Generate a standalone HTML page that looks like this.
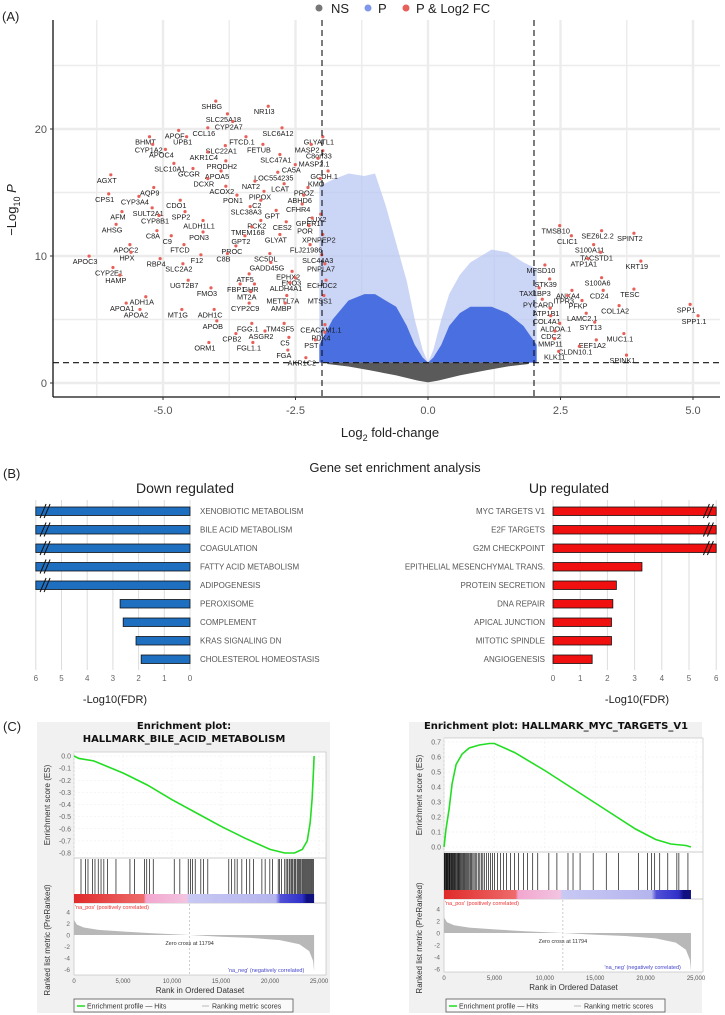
<!DOCTYPE html>
<html><head><meta charset="utf-8">
<style>
html,body{margin:0;padding:0;background:#fff;}
svg{display:block;font-family:"Liberation Sans",sans-serif;}
</style></head>
<body>
<svg id="fig" width="725" height="1015" viewBox="0 0 725 1015" xmlns="http://www.w3.org/2000/svg"></svg>
<script>
// ---------- Panel A data ----------
const geneNames=["SHBG","NR1I3","SLC25A18","CYP2A7","APOF","CCL16","SLC6A12","BHMT","UPB1","FTCD.1","GLYATL1","CYP1A2","SLC22A1","FETUB","MASP2","APOC4","AKR1C4","SLC47A1","C8orf33","MASP2.1","PRODH2","SLC10A1","CA5A","GCGR","APOA5","LOC554235","GCDH.1","AGXT","KMO","DCXR","NAT2","ACOX2","LCAT","PROZ","AQP9","PIPOX","CPS1","CYP3A4","PON1","ABHD6","CDO1","C2","SULT2A1","SLC38A3","GPT","CFHR4","CUX2","AFM","SPP2","CYP8B1","ALDH1L1","PCK2","CES2","GPER1","POR","AHSG","TMEM168","C8A","PON3","C9","GLYAT","XPNPEP2","GPT2","APOC2","FTCD","PROC","FLJ21986","HPX","APOC3","SC5DL","C8B","SLC44A3","F12","RBP4","SLC2A2","GADD45G","PNPLA7","CYP2E1","HAMP","ATF5","EPHX2","ENO3","ECHDC2","UGT2B7","FBP1","GHR","ALDH4A1","FMO3","MT2A","ADH1A","METTL7A","MTSS1","APOA1","CYP2C9","AMBP","MT1G","ADH1C","APOA2","APOB","FGG.1","TM4SF5","CEACAM1.1","ASGR2","PDK4","CPB2","C5","PST","ORM1","FGL1.1","FGA","AKR1C2",
"TMSB10","SEZ6L2.2","SPINT2","CLIC1","S100A11","TACSTD1","ATP1A1","KRT19","MFSD10","STK39","S100A6","TAX1BP3","ANXA4","CD24","TESC","ITPR3","PYCARD","PFKP","SPP1","COL1A2","ATP1B1","LAMC2.1","SPP1.1","COL4A1","SYT13","ALDOA.1","CDC2","MUC1.1","MMP11","EEF1A2","CLDN10.1","KLK11","SPINK1"];
const geneFC=[-4.08,-3.09,-3.86,-3.76,-4.78,-4.23,-2.83,-5.33,-4.63,-3.51,-2.06,-5.27,-3.9,-3.19,-2.28,-5.03,-4.23,-2.87,-2.06,-2.15,-3.89,-4.87,-2.58,-4.51,-3.98,-2.91,-1.96,-6.06,-2.11,-4.23,-3.34,-3.89,-2.79,-2.34,-5.25,-3.17,-6.1,-5.53,-3.68,-2.42,-4.75,-3.23,-5.28,-3.43,-2.94,-2.45,-2.1,-5.85,-4.66,-5.15,-4.32,-3.23,-2.75,-2.26,-2.32,-5.96,-3.4,-5.19,-4.32,-4.92,-2.87,-2.06,-3.53,-5.7,-4.68,-3.7,-2.3,-5.68,-6.47,-3.06,-3.86,-2.08,-4.36,-5.13,-4.7,-3.04,-2.02,-6.02,-5.89,-3.45,-2.64,-2.58,-2.0,-4.6,-3.62,-3.35,-2.68,-4.17,-3.42,-5.4,-2.74,-2.04,-5.77,-3.45,-2.77,-4.72,-4.11,-5.51,-4.06,-3.4,-2.79,-2.02,-3.15,-2.02,-3.7,-2.7,-2.2,-4.21,-3.38,-2.72,-2.38,
2.41,3.2,3.81,2.63,3.05,3.18,2.94,3.94,2.13,2.22,3.2,2.02,2.64,3.23,3.81,2.56,2.08,2.83,4.87,3.53,2.23,2.91,5.02,2.24,3.07,2.41,2.32,3.62,2.31,3.1,2.78,2.39,3.67];
const geneP=[21.8,21.4,20.8,20.2,19.5,19.7,19.7,19.0,19.0,19.0,19.0,18.4,18.3,18.4,18.4,18.0,17.8,17.6,17.9,17.3,17.1,16.9,16.8,16.5,16.3,16.2,16.3,16.0,15.7,15.7,15.5,15.1,15.3,15.0,15.0,14.7,14.5,14.3,14.4,14.4,14.0,14.0,13.4,13.5,13.2,13.7,12.9,13.1,13.1,12.8,12.4,12.4,12.3,12.6,12.0,12.1,11.9,11.6,11.5,11.2,11.3,11.3,11.2,10.5,10.5,10.4,10.5,9.9,9.6,9.8,9.8,9.7,9.7,9.4,9.0,9.1,9.0,8.7,8.1,8.2,8.4,7.9,7.7,7.7,7.4,7.4,7.5,7.1,6.8,6.4,6.5,6.5,5.9,5.9,5.9,5.4,5.4,5.4,4.5,4.3,4.3,4.2,3.7,3.6,3.5,3.2,3.0,2.8,2.8,2.2,1.6,
12.0,11.6,11.4,11.2,10.5,9.9,9.4,9.2,8.9,7.8,7.9,7.1,6.9,6.9,7.0,6.5,6.2,6.1,5.8,5.7,5.5,5.1,4.9,4.9,4.4,4.3,3.7,3.5,3.1,3.0,2.5,2.1,1.8];
const envFC=[-2.05,-1.8,-1.5,-1.2,-1.0,-0.8,-0.6,-0.4,-0.25,-0.1,0,0.1,0.25,0.4,0.6,0.8,1.0,1.2,1.5,1.8,2.05];
const sparseTop=[15.5,16,16.5,16.3,16.5,14,11,8,5,2.6,1.6,2.6,5,7,8.5,9.5,10,10.5,10.3,9.5,9];
const denseTop=[3,5,6.5,7,7,6.5,6,4.5,3,2,1.6,2,3,4.5,5.5,6,6,6,5.5,4.5,3];
const nsFC=[-1.9,-1.5,-1.1,-0.6,-0.2,0,0.2,0.6,1.1,1.5,1.9];
const nsBottom=[1.5,1.3,1.0,0.6,0.2,0.05,0.2,0.6,1.0,1.3,1.5];
const volXTicks=[-5,-2.5,0,2.5,5];
const volXTickLabels=["-5.0","-2.5","0.0","2.5","5.0"];
const volYTicks=[0,10,20];
const pThresh=1.6, fcThresh=2;

// ---------- Panel B data ----------
const downTerms=["XENOBIOTIC METABOLISM","BILE ACID METABOLISM","COAGULATION","FATTY ACID METABOLISM","ADIPOGENESIS","PEROXISOME","COMPLEMENT","KRAS SIGNALING DN","CHOLESTEROL HOMEOSTASIS"];
const downValues=[7,7,7,7,7,2.72,2.6,2.1,1.9];
const upTerms=["MYC TARGETS V1","E2F TARGETS","G2M CHECKPOINT","EPITHELIAL MESENCHYMAL TRANS.","PROTEIN SECRETION","DNA REPAIR","APICAL JUNCTION","MITOTIC SPINDLE","ANGIOGENESIS"];
const upValues=[7,7,7,3.27,2.33,2.2,2.15,2.15,1.44];
const fdrTicks=[0,1,2,3,4,5,6];

// ---------- Panel C data ----------
const bileRanks=[0,500,2000,5000,7500,10000,12500,15000,17500,20000,21500,22500,23300,23800,24100,24300,24450,24500];
const bileES=[0,-0.02,-0.04,-0.14,-0.24,-0.36,-0.47,-0.58,-0.68,-0.77,-0.80,-0.80,-0.77,-0.70,-0.55,-0.35,-0.1,0.0];
const bileESTicks=[0,-0.1,-0.2,-0.3,-0.4,-0.5,-0.6,-0.7,-0.8];
const bileHits=[714,1189,1427,1903,2141,2474,2759,3045,3425,4282,5709,6184,7183,7421,7707,8087,10228,10799,11655,11893,12083,12369,12940,13225,13653,15794,16080,16413,16650,17126,17602,17935,18315,19172,19505,19981,20266,20837,20980,21170,21503,21646,21800,21950,22050,22200,22300,22450,22550,22650,22800,22900,23000,23100,23250,23350,23450,23550,23650,23750,23850,23950,24050,24150,24250,24350,24450];
const mycRanks=[0,200,500,800,1200,1800,2500,3500,4500,5000,7000,10000,13000,16000,19000,21000,22500,24000,24500];
const mycES=[0,0.12,0.25,0.42,0.55,0.62,0.66,0.68,0.69,0.69,0.63,0.51,0.38,0.25,0.12,0.05,0.02,0.01,0.0];
const mycESTicks=[0,0.1,0.2,0.3,0.4,0.5,0.6,0.7];
const mycHits=[30,90,150,210,270,330,390,450,520,580,650,720,790,860,930,1000,1080,1160,1240,1320,1400,1480,1560,1650,1740,1830,1920,2010,2100,2200,2300,2400,2500,2620,2740,2860,2980,3100,3250,3400,3550,3700,3850,4000,4200,4400,4600,4800,5000,5300,5600,5900,6200,6600,7000,7400,7900,8300,8800,9300,10400,11200,12300,12800,13500,14800,16100,17300,19300,20200,20600,20900,21400,22200,23100,23300,24200];
const metricRanks=[0,300,1000,2500,5000,8000,11794,15000,18000,21000,23000,24000,24400,24500];
const metricVals=[2.6,1.8,1.3,0.9,0.6,0.3,0,-0.3,-0.5,-0.9,-1.6,-2.8,-4.5,-6.3];
const rankTicks=[0,5000,10000,15000,20000,25000];
const rankTickLabels=["0","5,000","10,000","15,000","20,000","25,000"];
const metricTicks=[4,2,0,-2,-4,-6];

const NS="http://www.w3.org/2000/svg";
const svg=document.getElementById('fig');
function el(tag,parent){const e=document.createElementNS(NS,tag);(parent||svg).appendChild(e);return e;}
function txt(parent,x,y,s,size,fill,anchor){const t=el('text',parent);t.setAttribute('x',x);t.setAttribute('y',y);t.setAttribute('font-size',size);t.setAttribute('fill',fill||'#222');if(anchor)t.setAttribute('text-anchor',anchor);t.textContent=s;return t;}
function ln(parent,x1,y1,x2,y2,st,w){const l=el('line',parent);l.setAttribute('x1',x1);l.setAttribute('y1',y1);l.setAttribute('x2',x2);l.setAttribute('y2',y2);l.setAttribute('stroke',st);l.setAttribute('stroke-width',w||1);return l;}

// ================= PANEL A =================
const xV=fc=>428+fc*53, yV=p=>383-p*12.7;
const gA=el('g');
let t=txt(gA,2,21,'(A)',13,'#222');

const gGrid=el('g',gA);
for(let v=-6.25;v<=5.1;v+=1.25){ln(gGrid,xV(v),20,xV(v),397,'#ececec',Math.abs(v%2.5)<0.01?2.4:1.4);}
for(let p=0;p<=25;p+=5){ln(gGrid,53,yV(p),720,yV(p),'#ececec',p%10===0?2.4:1.4);}
let pts=[];envFC.forEach((f,i)=>pts.push(xV(f)+','+yV(sparseTop[i])));
for(let i=envFC.length-1;i>=0;i--)pts.push(xV(envFC[i])+','+yV(pThresh));
let poly=el('polygon',gA);poly.setAttribute('points',pts.join(' '));poly.setAttribute('fill','#b9c7f3');poly.setAttribute('opacity','0.75');

pts=[];envFC.forEach((f,i)=>pts.push(xV(f)+','+yV(denseTop[i])));
for(let i=envFC.length-1;i>=0;i--)pts.push(xV(envFC[i])+','+yV(pThresh));
poly=el('polygon',gA);poly.setAttribute('points',pts.join(' '));poly.setAttribute('fill','#4a6fe0');

pts=[];nsFC.forEach(f=>pts.push(xV(f)+','+yV(pThresh)));
for(let i=nsFC.length-1;i>=0;i--)pts.push(xV(nsFC[i])+','+yV(nsBottom[i]));
poly=el('polygon',gA);poly.setAttribute('points',pts.join(' '));poly.setAttribute('fill','#5a5a5a');

const gGenes=el('g',gA);
geneNames.forEach((n,i)=>{
  const c=el('circle',gGenes);c.setAttribute('cx',xV(geneFC[i])+4);c.setAttribute('cy',yV(geneP[i])-5);c.setAttribute('r',1.6);c.setAttribute('fill','#e8605a');
  
  const tt=txt(gGenes,xV(geneFC[i]),yV(geneP[i])+3,n,7.3,'#1a1a1a','middle');
  
});
let d=ln(gA,xV(-fcThresh),20,xV(-fcThresh),397,'#111',1.1);d.setAttribute('stroke-dasharray','6,4');

d=ln(gA,xV(fcThresh),20,xV(fcThresh),397,'#111',1.1);d.setAttribute('stroke-dasharray','6,4');

d=ln(gA,53,yV(pThresh),720,yV(pThresh),'#111',1.1);d.setAttribute('stroke-dasharray','6,4');

d=ln(gA,53,20,53,397,'#111',1.3);
d=ln(gA,53,397,720,397,'#111',1.3);
volXTicks.forEach((v,i)=>{ln(gA,xV(v),397,xV(v),400,'#333',1);const tk=txt(gA,xV(v),414,volXTickLabels[i],11,'#555','middle');
  });
volYTicks.forEach(v=>{ln(gA,50,yV(v),53,yV(v),'#333',1);const tk=txt(gA,47,yV(v)+4,String(v),11,'#555','end');
  });
t=txt(gA,390,437,'',13,'#222','middle');t.innerHTML='Log<tspan font-size="9" dy="4">2</tspan><tspan dy="-4"> fold-change</tspan>';

t=txt(gA,0,0,'',13,'#222','middle');t.setAttribute('transform','translate(16,210) rotate(-90)');
t.innerHTML='−Log<tspan font-size="9" dy="4">10</tspan><tspan dy="-4" font-style="italic"> P</tspan>';

const gLeg=el('g',gA);
[['#777','NS',319,331],['#7f98ea','P',368,378],['#e8605a','P & Log2 FC',406,416]].forEach(a=>{
  const c=el('circle',gLeg);c.setAttribute('cx',a[2]);c.setAttribute('cy',8);c.setAttribute('r',3.5);c.setAttribute('fill',a[0]);
  
  const tt=txt(gLeg,a[3],13,a[1],13,'#222');
});

// ================= PANEL B =================
const gB=el('g');
t=txt(gB,3,478,'(B)',13,'#222');
t=txt(gB,395,472,'Gene set enrichment analysis',13,'#222','middle');
t=txt(gB,185,493,'Down regulated',14,'#222','middle');
t=txt(gB,569,493,'Up regulated',14,'#222','middle');
const xL=v=>190-v*25.7, xR=v=>553+v*27.2, rowY=i=>511+i*18.5;
fdrTicks.forEach(v=>{
  ln(gB,xL(v),500,xL(v),670,'#dcdcdc',1);ln(gB,xR(v),500,xR(v),670,'#dcdcdc',1);
  let a=txt(gB,xL(v),681,String(v),8,'#666','middle');
  a=txt(gB,xR(v),681,String(v),8,'#666','middle');
});
function brk(g,x,y){[-3,1].forEach(o=>{ln(g,x+o-3,y+7,x+o+3,y-7,'#111',1);});}
downTerms.forEach((n,i)=>{
  const v=Math.min(downValues[i],6.0),y=rowY(i);
  const r=el('rect',gB);r.setAttribute('x',xL(v));r.setAttribute('y',y-4);r.setAttribute('width',xL(0)-xL(v));r.setAttribute('height',8.5);
  r.setAttribute('fill','#1f6fc0');r.setAttribute('stroke','#111');r.setAttribute('stroke-width',0.8);
  
  if(downValues[i]>6)brk(gB,xL(5.6),y);
  const tt=txt(gB,200,y+3,n,8,'#555');
});
upTerms.forEach((n,i)=>{
  const v=Math.min(upValues[i],6.0),y=rowY(i);
  const r=el('rect',gB);r.setAttribute('x',xR(0));r.setAttribute('y',y-4);r.setAttribute('width',xR(v)-xR(0));r.setAttribute('height',8.5);
  r.setAttribute('fill','#f01010');r.setAttribute('stroke','#111');r.setAttribute('stroke-width',0.8);
  
  if(upValues[i]>6)brk(gB,xR(5.75),y);
  const tt=txt(gB,545,y+3,n,8,'#555','end');
});
t=txt(gB,115,703,'-Log10(FDR)',11,'#222','middle');
t=txt(gB,637,703,'-Log10(FDR)',11,'#222','middle');

// ================= PANEL C =================
t=txt(svg,3,731,'(C)',13,'#222');
function gsea(cfg){
  const g=el('g');
  let r=el('rect',g);r.setAttribute('x',cfg.bx);r.setAttribute('y',722);r.setAttribute('width',293);r.setAttribute('height',291);r.setAttribute('fill','#f1f1f1');
  
  const X=k=>cfg.x0+k/25000*(cfg.x25-cfg.x0);
  const Y=v=>cfg.esY0+v*cfg.esK;
  const M=m=>cfg.mY0-m*cfg.mK;
  r=el('rect',g);r.setAttribute('x',cfg.x0);r.setAttribute('y',cfg.top);r.setAttribute('width',cfg.x1-cfg.x0);r.setAttribute('height',cfg.bot-cfg.top);r.setAttribute('fill','#fff');r.setAttribute('stroke','#bbb');r.setAttribute('stroke-width',0.6);
  
  ln(g,cfg.x0,cfg.esBot,cfg.x1,cfg.esBot,'#999',0.6);ln(g,cfg.x0,cfg.hitBot+9,cfg.x1,cfg.hitBot+9,'#999',0.6);
  rankTicks.forEach(k=>{const l=ln(g,X(k),cfg.top,X(k),cfg.esBot,'#eee',0.6);l.setAttribute('stroke-dasharray','2,2');});
  cfg.esTicks.forEach(v=>{const l=ln(g,cfg.x0,Y(v),cfg.x1,Y(v),'#eee',0.6);l.setAttribute('stroke-dasharray','2,2');
    const a=txt(g,cfg.x0-3,Y(v)+2.5,v.toFixed(1),7,'#666','end');});
  const gh=el('g',g);
  cfg.hits.forEach(k=>{const l=ln(gh,X(k),cfg.esBot+1,X(k),cfg.hitBot,'#111',0.7);});
  const gid='grad'+cfg.name;const defs=el('defs',g);const lg=el('linearGradient',defs);lg.setAttribute('id',gid);
  [[0,'#e02a2a'],[0.29,'#ee6b6b'],[0.3,'#f2a6cf'],[0.47,'#f2c4e0'],[0.48,'#c8c8f4'],[0.84,'#b5b5ee'],[0.86,'#5050d8'],[0.95,'#3030c8'],[0.97,'#101080'],[1,'#101080']].forEach(s=>{const st=el('stop',lg);st.setAttribute('offset',s[0]);st.setAttribute('stop-color',s[1]);});
  r=el('rect',g);r.setAttribute('x',X(0));r.setAttribute('y',cfg.hitBot);r.setAttribute('width',X(24500)-X(0));r.setAttribute('height',9);r.setAttribute('fill','url(#'+gid+')');
  
  let a=txt(g,X(0)+1,cfg.hitBot+15,"'na_pos' (positively correlated)",5.5,'#e33');
  let mp=[X(0)+','+M(0)];metricRanks.forEach((k,i)=>mp.push(X(k)+','+M(metricVals[i])));mp.push(X(24500)+','+M(0));
  const pm=el('polygon',g);pm.setAttribute('points',mp.join(' '));pm.setAttribute('fill','#b8b8b8');
  
  const zl=ln(g,X(11794),cfg.hitBot+10,X(11794),cfg.bot,'#aaa',0.6);zl.setAttribute('stroke-dasharray','2,2');
  a=txt(g,X(11794),M(0)+10,'Zero cross at 11794',5.5,'#333','middle');
  a=txt(g,X(23500),cfg.bot-3,"'na_neg' (negatively correlated)",5.5,'#44c','end');
  metricTicks.forEach(m=>{a=txt(g,cfg.x0-4,M(m)+2.5,String(m),6.5,'#666','end');});
  const pl=el('polyline',g);pl.setAttribute('points',cfg.ranks.map((k,i)=>X(k)+','+Y(cfg.es[i])).join(' '));pl.setAttribute('fill','none');pl.setAttribute('stroke','#22dd22');pl.setAttribute('stroke-width',1.6);
  
  rankTicks.forEach((k,i)=>{a=txt(g,X(k),cfg.bot+8,rankTickLabels[i],6,'#555','middle');});
  a=txt(g,(cfg.x0+cfg.x1)/2,cfg.bot+18,'Rank in Ordered Dataset',8,'#333','middle');
  a=txt(g,0,0,'Enrichment score (ES)',8,'#333','middle');a.setAttribute('transform','translate('+(cfg.bx+13)+','+((cfg.top+cfg.esBot)/2)+') rotate(-90)');
  
  a=txt(g,0,0,'Ranked list metric (PreRanked)',8,'#333','middle');a.setAttribute('transform','translate('+(cfg.bx+13)+','+(cfg.mY0+5)+') rotate(-90)');
  
  cfg.title.forEach((s,i)=>{a=txt(g,cfg.tx,729+i*13,s,10,'#111','middle');a.setAttribute('font-weight','bold');a.setAttribute('font-family','"DejaVu Sans",sans-serif');
    });
  const lgG=el('g',g);
  r=el('rect',lgG);r.setAttribute('x',cfg.lx);r.setAttribute('y',cfg.ly);r.setAttribute('width',219);r.setAttribute('height',13);r.setAttribute('fill','#fafafa');r.setAttribute('stroke','#555');r.setAttribute('stroke-width',0.8);
  ln(lgG,cfg.lx+3,cfg.ly+7,cfg.lx+11,cfg.ly+7,'#22dd22',1.5);
  a=txt(lgG,cfg.lx+13,cfg.ly+9.5,'Enrichment profile — Hits',7,'#333');
  ln(lgG,cfg.lx+128,cfg.ly+7,cfg.lx+135,cfg.ly+7,'#bbb',1);
  a=txt(lgG,cfg.lx+138,cfg.ly+9.5,'Ranking metric scores',7,'#333');
}
gsea({name:'gsea-bile-acid',bx:37,x0:74,x1:326,x25:319,top:752,esBot:858,hitBot:894,bot:975,esY0:756,esK:-121.25,mY0:935,mK:5.75,esTicks:bileESTicks,hits:bileHits,ranks:bileRanks,es:bileES,title:['Enrichment plot:','HALLMARK_BILE_ACID_METABOLISM'],tx:184,lx:74,ly:999});
gsea({name:'gsea-myc-targets',bx:409,x0:444,x1:703,x25:696,top:738,esBot:852,hitBot:890,bot:972,esY0:847,esK:-150,mY0:933,mK:6,esTicks:mycESTicks,hits:mycHits,ranks:mycRanks,es:mycES,title:['Enrichment plot: HALLMARK_MYC_TARGETS_V1'],tx:556,lx:446,ly:999});
</script>
</body></html>
